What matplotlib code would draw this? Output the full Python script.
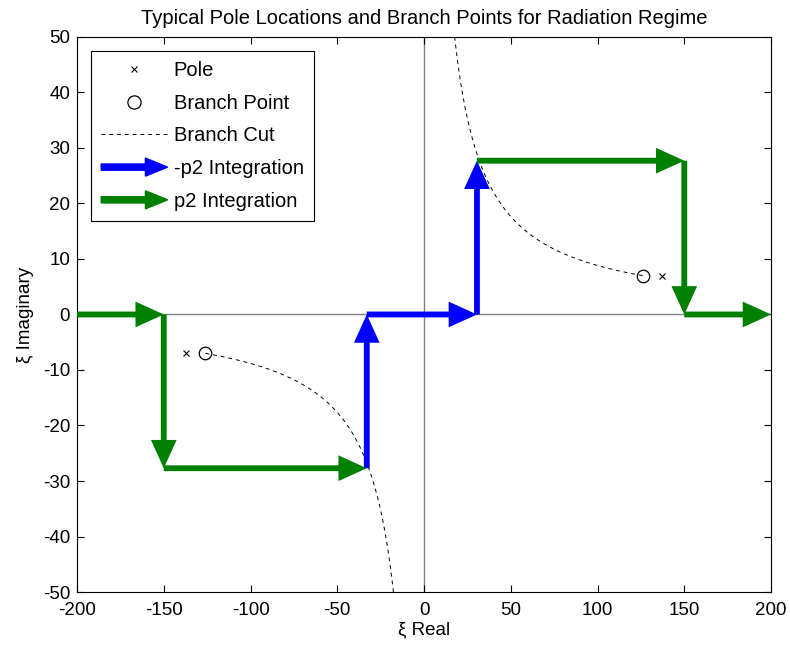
import numpy as np
import matplotlib
matplotlib.use("Agg")
import matplotlib.pyplot as plt
from matplotlib.patches import FancyArrow
from matplotlib.legend_handler import HandlerPatch
from matplotlib.lines import Line2D

plt.rcParams['font.family'] = ['Liberation Sans', 'DejaVu Sans']
plt.rcParams['axes.unicode_minus'] = False

# Data
pole_x = [-137, 137]
pole_y = [-7, 7]
branch_x = [-126, 126]
branch_y = [-7, 7]
cut_const = 882.0  # Re*Im along branch cut
cut_x_upper = np.linspace(126, 17.6, 200)
cut_x_lower = -cut_x_upper

# integration path segments (x0, y0, x1, y1)
neg_p2_segments = [(-33, -27.7, -33, 0), (-33, 0, 30.5, 0), (30.5, 0, 30.5, 27.7)]
p2_segments = [(-200, 0, -150, 0), (-150, 0, -150, -27.7), (-150, -27.7, -33, -27.7),
               (30.5, 27.7, 150, 27.7), (150, 27.7, 150, 0), (150, 0, 200, 0)]

fig = plt.figure(figsize=(7.9, 6.5), dpi=100)
ax = fig.add_axes([0.0975, 0.0892, 0.8785, 0.854])

ax.axhline(0, color='#808080', lw=1, zorder=1)
ax.axvline(0, color='#808080', lw=1, zorder=1)

ax.plot(cut_x_upper, cut_const / cut_x_upper, '--', color='black', lw=0.7, dashes=(4, 4), zorder=2)
ax.plot(cut_x_lower, cut_const / cut_x_lower, '--', color='black', lw=0.7, dashes=(4, 4), zorder=2)

ax.plot(pole_x, pole_y, 'x', color='black', ms=5, mew=0.8, ls='none', zorder=3)
ax.plot(branch_x, branch_y, 'o', mfc='none', mec='black', ms=9, mew=0.9, ls='none', zorder=3)

def draw(segs, color):
    for x0, y0, x1, y1 in segs:
        ax.annotate('', xy=(x1, y1), xytext=(x0, y0),
                    arrowprops=dict(arrowstyle='-|>,head_length=1.1,head_width=0.5',
                                    color=color, lw=4.2, shrinkA=0, shrinkB=0,
                                    mutation_scale=12, capstyle='butt', joinstyle='miter'),
                    zorder=4)

draw(neg_p2_segments, 'blue')
draw(p2_segments, 'green')

ax.set_xlim(-200, 200)
ax.set_ylim(-50, 50)
ax.set_xticks(np.arange(-200, 201, 50))
ax.set_yticks(np.arange(-50, 51, 10))
ax.tick_params(direction='in', top=True, right=True, labelsize=13.5, length=5)
ax.tick_params(axis='y', pad=5)
ax.tick_params(axis='x', pad=7)
ax.set_title('Typical Pole Locations and Branch Points for Radiation Regime', fontsize=14.5, pad=9)
ax.set_xlabel('ξ Real', fontsize=13.5, labelpad=2)
ax.set_ylabel('ξ Imaginary', fontsize=13.5, labelpad=6)

def make_arrow(legend, orig_handle, xdescent, ydescent, width, height, fontsize):
    return FancyArrow(-xdescent, height / 2 - ydescent, width, 0, width=4.5,
                      head_width=13, head_length=16, length_includes_head=True,
                      color=orig_handle.get_facecolor())

h_pole = Line2D([], [], marker='x', color='black', ls='none', ms=5, mew=0.8)
h_bp = Line2D([], [], marker='o', mfc='none', mec='black', ls='none', ms=9.5, mew=0.9)
h_cut = Line2D([], [], color='black', ls='--', lw=0.7, dashes=(4, 4))
h_blue = FancyArrow(0, 0, 1, 0, color='blue')
h_green = FancyArrow(0, 0, 1, 0, color='green')

leg = ax.legend([h_pole, h_bp, h_cut, h_blue, h_green],
                ['Pole', 'Branch Point', 'Branch Cut', '-p2 Integration', 'p2 Integration'],
                loc='upper left', fontsize=14.5, handlelength=3.3, handletextpad=0.3,
                borderpad=0.5, labelspacing=0.68, fancybox=False, edgecolor='black',
                framealpha=1, borderaxespad=0.7,
                handler_map={FancyArrow: HandlerPatch(patch_func=make_arrow)})
leg.get_frame().set_linewidth(0.8)

fig.savefig('out.png', dpi=100)
